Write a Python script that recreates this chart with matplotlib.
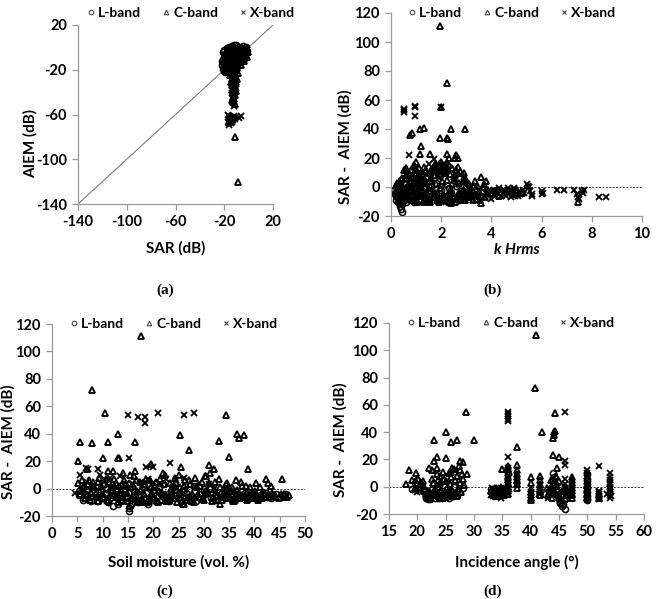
import matplotlib
matplotlib.use("Agg")
import matplotlib.pyplot as plt
from matplotlib.lines import Line2D

plt.rcParams['font.family'] = ['Lato', 'DejaVu Sans']
plt.rcParams['font.weight'] = 'bold'
plt.rcParams['axes.unicode_minus'] = False

# ---------------- data ----------------
band_names = ["L-band", "C-band", "X-band"]

# (a) SAR vs AIEM (dB)
a_L = [(-22,-12),(-21.5,-16),(-21,-19),(-20.5,-21),(-20,-9),(-19.5,-14),(-19,-6),(-18.5,-18),(-18,-11),(-17,-4),
       (-16,-8),(-15,-13),(-14,-2),(-13,-6),(-12,-10),(-11,-1),(-10,-5),(-9,-9),(-8,0),(-7,-3),
       (-6,-7),(-5,1),(-4,-2),(-3,-5),(-2,0),(-1,-3),(-17.5,-16),(-16.5,-20),(-15.5,-17),(-14.5,-22),
       (-13.5,-15),(-12.5,-19),(-11.5,-14),(-10.5,-12),(-9.5,-16),(-8.5,-11),(-7.5,-9),(-6.5,-12),(-5.5,-8),(-4.5,-10),
       (-3.5,-6),(-2.5,-4),(-21,-4),(-20,-2),(-18,-1),(-16,0),(-14,1),(-12,2),(-10,2),(-13,-27),
       (-12,-24),(-11,-30),(-12.5,-34),(-11.5,-38),(-20.5,-17),(-19.5,-22)]
a_C = [(-21,-10),(-20,-15),(-19,-8),(-18,-13),(-17,-2),(-16,-11),(-15,-5),(-14,-16),(-13,-3),(-12,-12),
       (-11,-7),(-10,-15),(-9,-2),(-8,-8),(-7,-13),(-6,-4),(-5,-9),(-4,-12),(-3,-3),(-2,-7),
       (-1,-1),(-0.5,-4),(-19.5,-19),(-18.5,-5),(-17.5,-21),(-16.5,-7),(-15.5,-19),(-14.5,-9),(-13.5,-23),(-12.5,-6),
       (-11.5,-20),(-10.5,-4),(-9.5,-18),(-8.5,-14),(-7.5,-2),(-6.5,-16),(-5.5,-1),(-4.5,-6),(-3.5,-10),(-2.5,-2),
       (-1.5,-9),(-15,-25),(-14,-28),(-13,-26),(-12,-29),(-11,-25),(-10,-27),(-9,-23),(-14.5,-31),(-13.5,-34),
       (-12.5,-30),(-11.5,-33),(-10.5,-31),(-9.5,-28),(-13.5,-38),(-12.5,-41),(-11.5,-36),(-10.5,-39),(-13,-44),(-12,-46),
       (-11,-43),(-12.5,-49),(-11.5,-51),(-13.5,-47),(-11,-80),(-9,-120)]
a_X = [(-20,-7),(-19,-12),(-18,-3),(-17,-9),(-16,-15),(-15,-1),(-14,-7),(-13,-12),(-12,-4),(-11,-17),
       (-10,-9),(-9,-4),(-8,-12),(-7,-6),(-6,-2),(-5,-5),(-4,-8),(-3,-1),(-2,-4),(-1,-2),
       (-16.5,-18),(-15.5,-22),(-14.5,-14),(-13.5,-19),(-12.5,-24),(-11.5,-11),(-10.5,-21),(-9.5,-13),(-8.5,-17),(-7.5,-10),
       (-14,-30),(-13,-32),(-12,-27),(-11,-35),(-10,-33),(-13.5,-41),(-12,-39),(-13,-46),(-12,-52),(-17,-60),
       (-16.5,-63),(-16,-61),(-15.5,-64),(-15,-62),(-14,-65),(-13,-63),(-12,-61),(-11,-64),(-10,-62),(-8,-63),
       (-6,-61),(-16.8,-67),(-15.8,-68),(-14.8,-66),(-13.8,-67),(-12.8,-65),(-16.2,-69),(-15.2,-66),(-14.2,-68)]

# (b) k Hrms vs SAR - AIEM (dB)
b_L = [(0.1,-2),(0.15,-4),(0.2,-6),(0.25,-3),(0.3,-8),(0.35,-5),(0.4,-2),(0.45,-7),(0.5,-1),(0.55,-4),
       (0.6,2),(0.65,-6),(0.7,0),(0.75,-3),(0.8,4),(0.85,-5),(0.9,1),(0.95,-2),(1.0,-7),(1.1,-1),
       (1.2,-4),(1.3,0),(1.4,-6),(1.5,-3),(0.2,-9),(0.3,-11),(0.4,-5),(0.5,3),(0.6,-8),(0.7,5),
       (0.8,-2),(0.9,3),(1.0,-5),(1.1,2),(0.35,-13),(0.4,-15),(0.42,-17),(0.45,-12),(0.38,-10),(0.25,-7),
       (0.3,1),(0.5,-9),(0.6,-6),(1.2,-8),(1.6,-3),(1.8,-5),(2.0,-2),(2.2,-6),(0.15,-5),(0.28,-10),
       (0.55,6),(0.75,3),(1.3,4),(1.7,2),(2.4,-4),(2.8,-3),(3.1,-6),
       (0.2,0),(0.3,3),(0.4,5),(0.5,-6),(0.6,-10),(0.7,-8),(0.8,-7),(0.9,-10),(1.0,0),(1.1,-9),
       (1.2,4),(1.3,-6),(1.4,1),(1.5,-9),(1.6,0),(1.7,-7),(1.8,3),(1.9,-4),(2.1,-9),(2.3,-1),
       (2.5,-7),(2.6,1),(2.7,-9),(2.9,-5),(3.0,0),(3.2,-3),(3.4,-8)]
b_C = [(0.4,2),(0.5,-5),(0.6,8),(0.7,-7),(0.8,4),(0.9,-9),(1.0,10),(1.1,-6),(1.2,5),(1.3,-10),
       (1.4,3),(1.5,-8),(1.6,6),(1.7,-5),(1.8,12),(1.9,-9),(2.0,9),(2.1,-6),(2.2,13),(2.3,-10),
       (2.4,-4),(2.5,7),(2.6,-8),(2.7,3),(2.8,-6),(2.9,5),(3.0,-7),(3.1,2),(3.2,-5),(3.3,1),
       (3.4,-8),(3.5,-3),(3.6,-6),(3.7,2),(3.8,-4),(0.55,12),(0.75,-2),(0.95,14),(1.15,0),(1.35,11),
       (1.55,-3),(1.75,16),(1.95,-1),(2.15,10),(2.35,-2),(2.55,8),(2.75,-4),(2.95,6),(3.15,-6),(3.35,-5),
       (0.65,-3),(0.85,6),(1.05,-4),(1.25,9),(1.45,-6),(1.65,4),(1.85,14),(2.05,-7),(2.25,5),(2.45,-9),
       (2.65,-5),(2.85,-3),(3.05,-4),(0.9,15),(1.4,12),(1.9,-10),(1.95,16),(2.4,-11),(2.9,7),
       (1.95,111),(2.25,72),(2.0,55),(0.75,36),(0.85,37),(1.15,40),(1.3,41),(2.4,40),(2.95,40),(1.95,34),
       (2.25,34),(2.27,33),(1.2,28),(1.15,23),(1.55,23),(2.25,23),(2.6,22),(2.3,20),(2.65,20),(2.55,20),
       (1.0,17),(2.65,14),(3.6,7),(3.6,-11),(7.45,-10),(0.5,12),(1.8,15),(2.0,14),(1.9,13),(2.1,12),
       (2.2,11),(1.4,-9),(3.8,4),(4.2,-3),(4.0,-4),(4.3,-6),(4.6,-3),(4.9,-5),(5.0,-2),(5.2,-4),
       (1.7,8),(2.35,9),(1.05,7),(0.7,10),
       (0.25,3),(0.35,-6),(0.45,6),(0.55,-8),(0.65,9),(0.75,0),(0.85,-9),(0.95,4),(1.05,-10),(1.15,8),
       (1.25,-2),(1.35,-7),(1.45,7),(1.55,-10),(1.65,11),(1.75,-4),(1.85,-9),(1.95,8),(2.05,4),(2.15,-8),
       (2.25,13),(2.35,-6),(2.45,2),(2.55,-10),(2.65,10),(2.75,-8),(2.85,4),(2.95,-9),(3.05,3),(3.15,-1),
       (3.25,-9),(3.35,4),(3.45,-4),(3.55,-9),(3.65,0),(3.75,-7),(3.85,-2),(1.9,16),(2.0,17),(2.1,15),
       (2.2,16),(1.85,11),(1.7,13),(1.6,12),(1.3,14),(1.1,13),(0.8,12),(1.0,12),(0.6,13),(2.3,15),
       (2.45,13),(2.6,12),(2.75,11),(2.9,10)]
b_X = [(0.5,54),(0.5,52),(0.52,53),(0.95,55),(0.97,56),(0.95,49),(2.0,55),(0.7,22),(1.7,19),(1.5,16),
       (0.6,-3),(0.9,2),(1.2,-5),(1.5,-2),(1.8,-7),(2.1,1),(2.4,-4),(2.7,-8),(3.0,-2),(3.3,-6),
       (3.6,-1),(3.9,-5),(4.0,-8),(4.2,-3),(4.4,-6),(4.5,-2),(4.7,-4),(4.8,-7),(4.9,-1),(5.0,-5),
       (5.1,-3),(4.3,-1),(4.6,-6),(3.8,-4),(3.5,-7),(3.2,-3),(2.9,-9),(5.4,2),(5.45,1),(5.5,0),
       (5.6,-5),(5.55,-3),(5.6,-6),(6.0,-3),(6.0,-5),(6.05,-4),(6.6,-2),(6.9,-2),(7.3,-2),(7.4,-5),
       (7.45,-7),(7.5,-8),(7.6,-3),(7.65,-4),(7.7,-2),(8.3,-7),(8.55,-7),(0.4,-5),(1.0,-9),(1.4,-4),
       (2.2,-10),(1.75,10),(1.6,6),(2.5,5),(4.1,-2),(4.45,-4),(4.75,-2),(5.05,-6),
       (0.3,-1),(0.5,0),(0.8,-6),(1.1,5),(1.3,-8),(1.9,6),(2.3,-7),(2.6,3),(2.8,-5),(3.1,-8),
       (3.4,0),(3.7,-6),(4.05,-3),(4.15,-6),(4.35,-3),(4.55,-5),(4.65,-1),(4.85,-3),(4.95,-6),(5.15,-5),
       (5.25,-2),(5.3,-4)]

# (c) Soil moisture (vol. %) vs SAR - AIEM (dB)
c_L = [(5.5,-1),(6.5,-4),(7.5,-6),(8.5,-2),(9.5,-5),(10.5,-3),(11.5,-7),(12,-13),(12.5,-4),(13.5,-8),
       (14.5,-2),(15.3,-16),(15.4,-13),(15.6,-11),(15.2,-14),(16.5,-5),(17.5,-8),(18.5,-3),(19.5,-6),(20.5,-9),
       (21.5,-4),(22.5,-7),(23.5,-2),(24.5,-5),(25.5,-8),(26.5,-3),(27.5,-6),(28.5,-9),(29.5,-4),(30.5,-2),
       (31.5,-7),(32.5,-5),(33.5,-3),(34.5,-6),(35.5,-8),(36.5,-4),(37.5,-2),(38.5,-6),(39.5,-5),(40.5,-7),
       (41.5,-4),(42.5,-6),(43.5,-5),(45,-6),(46,-4),(8,2),(10,4),(12,1),(14,3),(16,0),
       (18,2),(20,-1),(22,3),(24,1),(26,-1),(28,2),(30,0),(6.2,-8),(9,-9),(11,-10),
       (13,-11),(17,-10),(19,-11),
       (5.3,-5),(6.8,-1),(7.8,-9),(8.8,1),(9.8,-7),(10.8,0),(11.8,-5),(12.8,-1),(13.8,-4),(14.8,-7),
       (16.2,-2),(17.2,-6),(18.2,1),(19.2,-8),(20.2,-3),(21.2,1),(22.2,-6),(23.2,-9),(24.2,-1),(25.2,-6),
       (26.2,2),(27.2,-9),(28.2,-2),(29.2,-7),(30.2,-4),(31.2,0),(32.2,-8),(33.2,-6),(34.2,0),(35.2,-4),
       (36.2,-7),(37.2,-5),(38.2,-3),(39.2,-7),(40.2,-5),(41.2,-6),(42.2,-3),(43.2,-7),(44.2,-4),(45.6,-5)]
c_C = [(5.2,4),(5.8,-2),(6.3,2),(6.8,-5),(7.3,6),(7.8,-3),(8.3,1),(8.8,-6),(9.3,8),(9.8,-4),
       (10.3,3),(10.8,-8),(11.3,5),(11.8,-2),(12.3,7),(12.8,-6),(13.3,2),(13.8,-9),(14.3,6),(14.8,-3),
       (15.3,4),(15.8,-7),(16.3,9),(16.8,-2),(17.3,5),(17.8,-8),(18.3,3),(18.8,-10),(19.3,6),(19.8,-4),
       (20.3,2),(20.8,-9),(21.3,7),(21.8,-3),(22.3,10),(22.8,-8),(23.3,4),(23.8,-5),(24.3,8),(24.8,-10),
       (25.3,1),(25.8,-11),(26.3,6),(26.8,-6),(27.3,3),(27.8,-9),(28.3,8),(28.8,-4),(29.3,2),(29.8,-7),
       (30.3,9),(30.8,-3),(31.3,11),(31.8,-6),(32.3,5),(32.8,-8),(33.3,1),(33.8,-5),(34.3,3),(34.8,-7),
       (35.3,-2),(35.8,-9),(36.3,6),(36.8,-4),(37.3,5),(37.8,-6),(38.3,2),(38.8,-7),(39.3,-3),(39.8,-6),
       (40.3,4),(40.8,-8),(41.3,-5),(41.8,-3),(42.3,7),(42.6,4),(43.2,2),(43.8,-5),(44.3,-6),(45.2,-4),
       (45.5,7),(46,-5),(46.5,-6),(46.8,-5),
       (17.5,111),(8,72),(10.5,55),(34.3,54),(5.5,34),(8,33),(11,34),(16.5,34),(13,40),(25.3,39),
       (33,35),(36.5,40),(37,37),(38,39),(27,28),(35,23),(5.2,20),(10,22),(13,22),(13.3,22),
       (19.5,18),(31,17),(38.7,14),(25.5,16),(11,13),(16.5,13),(7,14),(12,13),(14,11),(15.5,10),
       (21,-10),(22.5,-9),(26,-11),(33.3,-11),(36,-9),(17,-10),(18,-10),(32,14),(30.5,9),(25,10),
       (22,11),(9,5),(6,6),
       (5.5,-4),(6.1,1),(6.6,-7),(7.1,3),(7.6,-8),(8.1,5),(8.6,-3),(9.1,-9),(9.6,2),(10.1,-6),
       (10.6,7),(11.1,-9),(11.6,1),(12.1,-5),(12.6,4),(13.1,-10),(13.6,0),(14.1,-6),(14.6,3),(15.1,-9),
       (15.6,1),(16.1,-5),(16.6,6),(17.1,-8),(17.6,0),(18.1,-4),(18.6,7),(19.1,-9),(19.6,1),(20.1,-6),
       (20.6,5),(21.1,-2),(21.6,-8),(22.1,3),(22.6,-5),(23.1,-9),(23.6,0),(24.1,-7),(24.6,4),(25.1,-3),
       (25.6,-9),(26.1,2),(26.6,-8),(27.1,6),(27.6,-4),(28.1,-10),(28.6,1),(29.1,-6),(29.6,5),(30.1,-8),
       (30.6,-1),(31.1,4),(31.6,-9),(32.1,0),(32.6,-5),(33.1,7),(33.6,-8),(34.1,-2),(34.6,4),(35.1,-6),
       (35.6,1),(36.1,-8),(36.6,-1),(37.1,-7),(37.6,2),(38.1,-5),(38.6,-8),(39.1,1),(39.6,-7),(40.1,-2),
       (40.6,-6),(41.1,1),(41.6,-7),(42.1,-4),(42.9,-6),(43.5,-3),(44.1,-5),(44.8,-7),(45.8,-4),(46.3,-6)]
c_X = [(4.5,-3),(5.5,10),(6.8,15),(7.2,14),(9,14),(9.5,10),(15,54),(17,52),(18.3,52),(18.3,48),
       (21,55),(26,54),(28,55),(15.2,22),(18.5,16),(20,16),(23.3,19),(6,-1),(8,1),(10,-3),
       (12,2),(14,-5),(16,3),(18,-2),(20,4),(22,-4),(24,1),(26,-3),(26,8),(28,2),
       (30,-5),(32,0),(34,-4),(36,-2),(38,-6),(40,-3),(11.5,8),(13,-7),(19,7),(24.5,6),
       (31,3),(16.5,-8),
       (7,5),(8.5,-6),(10.5,6),(11,-7),(13.5,9),(14.5,1),(15.5,-6),(17.5,5),(19.5,-7),(21.5,3),
       (22.5,7),(23.5,-6),(25,-2),(27,-7),(29,4),(33,-6),(35,-1),(37,-5),(39,-4),(41,-6),
       (43,-5)]

# (d) Incidence angle (deg) vs SAR - AIEM (dB)
d_L = [(19,-2),(19.5,3),(20,5),(20.5,0),(21,-3),(21.5,-8),(22,-6),(22.5,-2),(23,2),(23.5,-7),
       (24,-4),(24.5,1),(25,-5),(25.5,-8),(26,-3),(26.5,0),(27,-6),(21.7,-5),(22.2,-9),(23.2,-8),
       (44,10),(44,5),(44.3,2),(44.5,-2),(44.8,-6),(45,-9),(45.2,-11),(45.5,-14),(46,-16),(45.7,-13),
       (45.4,0),(46.1,-4),(50,-1),(50,2),(50,-4),(50,-7),(50,-9),(50,6),(50,9),(43.2,-3),
       (42.5,-5),
       (21.5,-6),(21.6,-3),(21.8,-9),(22.3,-7),(22.8,-5),(23.3,-1),(23.8,-8),(24.3,-6),(25.3,-2),(26.3,-7),
       (27.3,-4),(28,-1),(33,-2),(33.5,-7),(34,-4),(34.5,-6),(35,-2),(44.2,7),(44.6,-4),(45.1,-12),
       (45.3,-6),(45.8,-10),(43.7,-1),(46.2,-8),(50,4),(50,-10),(50,0)]
d_C = [(18,2),(18.5,12),(19,5),(19.7,10),(20,3),(20.5,-1),(21,4),(21.5,-5),(22,-7),(22.5,12),
       (22.5,6),(23,34),(23,19),(23,-3),(23.5,14),(23.5,22),(24,8),(24,-6),(24.5,11),(25,40),
       (25,21),(25,4),(25.5,-2),(26,33),(26,7),(26.5,13),(26.5,-5),(27,34),(27,8),(27.5,19),
       (27.5,3),(27.7,-4),(28,18),(28,6),(28.5,55),(28.8,9),(30,34),(22,14),(24,3),(25.5,10),
       (26.2,14),(27.3,15),(27.6,12),(21,1),(23.8,0),
       (33,-3),(33.5,-6),(34,-2),(34.5,-5),(35,13),(35,-4),(36,13),(36,10),(36,5),(36,0),
       (36,-3),(37.5,29),(37.5,16),(37.5,9),(37.5,5),(37.5,2),(37.5,-1),(40,7),(40,-2),(40,-6),
       (40,-10),(41,111),(40.7,72),(42,40),(41.7,8),(41.7,2),(41.7,-3),(41.7,-6),(44.3,54),(44,36),
       (44.2,40),(44.3,41),(44.2,38),(43.9,23),(45,22),(44.7,14),(44.5,8),(44,3),(43.5,-2),(44.5,-5),
       (45.5,-3),(46.2,-6),(47.3,7),(47.3,3),(47.3,-1),(47.3,-5),(47.3,-8),(43,-6),(42.8,-1),
       (19.5,-1),(20.2,6),(20.8,2),(21.3,-2),(21.8,-7),(22.3,-4),(22.8,3),(23.3,-6),(23.7,5),(24.2,-3),
       (24.7,6),(25.2,-6),(25.7,2),(26.2,-7),(26.7,5),(27.2,-2),(27.8,9),(28.2,1),(23.5,9),(24.5,-8),
       (25.5,-4),(26,11),(27,-7),(36,15),(36,7),(36,2),(36,-5),(36.2,11),(37.5,12),(37.5,7),
       (37.5,4),(40,3),(40,-4),(40,-8),(41.7,5),(41.7,0),(41.7,-4),(43.5,5),(44,-3),(44.5,1),
       (45,-7),(45,4),(45.5,-10),(46,-1),(43.8,-8),(33.2,-5),(33.8,-1),(34.2,-7),(34.8,0),(35.3,-6),
       (47.3,5),(47.3,1),(47.3,-3),(47.3,-6),(50,-2),(50,-5),(50,-8),(50,1),(52,-6),(52,-8)]
d_X = [(36,55),(36,53),(36,52),(36,50),(36,48),(36,22),(36,-5),(36,8),(36,3),(36.1,-2),
       (46,55),(46,19),(46,16),(46,2),(46,-3),(46,-7),(50,12),(50,10),(50,4),(50,-3),
       (50,-6),(52,15),(52,-5),(52,-7),(52,-9),(52,-3),(54,10),(54,5),(54,3),(54,-2),
       (54,-4),(54,-6),(54,-8),(53.5,-5),(54.2,-7),(33,-6),(33.5,-4),(34,-7),(34.5,-3),(35,-6),
       (35.5,-2),(33.2,-1),(34.8,-1),(20,-4),(20.5,-3),(22,-8),(23,-6),(24,-9),(25,-8),(26,-7),
       (40,-4),(40,-8),(41.5,-5),(43,-8),(47,-3),
       (33.3,-7),(33.8,-3),(34.3,-5),(34.7,-8),(35.2,-4),(36,12),(36,14),(36,5),(36,0),(54,0),
       (54,-3),(54,2),(54,7),(52,-4),(52,-8),(50,8),(50,-8),(46,-1),(46,6),(21.5,-7),
       (22.5,-5),(24.5,-4),(27,-5)]

# ticks
a_ticks = [-140, -100, -60, -20, 20]
b_xticks = [0, 2, 4, 6, 8, 10]
c_xticks = [0, 5, 10, 15, 20, 25, 30, 35, 40, 45, 50]
d_xticks = [15, 20, 25, 30, 35, 40, 45, 50, 55, 60]
diff_yticks = [-20, 0, 20, 40, 60, 80, 100, 120]

# ---------------- figure ----------------
W, H = 658, 599
fig = plt.figure(figsize=(W / 100, H / 100), dpi=100)


def px_axes(l, t, r, b):
    return fig.add_axes([l / W, 1 - b / H, (r - l) / W, (b - t) / H])


styles = [dict(marker='o', ms=4.4, mfc='none', mec='black', mew=1.15),
          dict(marker='^', ms=4.8, mfc='none', mec='black', mew=1.35),
          dict(marker='x', ms=4.0, mec='black', mew=1.3)]

GRAY = '#9a9a9a'
TICKFS = 10.5
LABFS = 11


def style_axes(ax):
    for s in ['top', 'right']:
        ax.spines[s].set_visible(False)
    for s in ['left', 'bottom']:
        ax.spines[s].set_color(GRAY)
        ax.spines[s].set_linewidth(0.9)
    ax.tick_params(direction='out', length=4, width=0.9, color=GRAY,
                   labelsize=TICKFS, pad=4)
    for lab in ax.get_xticklabels() + ax.get_yticklabels():
        lab.set_fontweight('bold')


def scatter_bands(ax, data):
    for pts, st, name in zip(data, styles, band_names):
        xs = [p[0] for p in pts]
        ys = [p[1] for p in pts]
        ax.plot(xs, ys, linestyle='none', label=name, **st)


def add_legend(ax, x_axfrac, y_axfrac):
    hs = [Line2D([], [], linestyle='none', marker=st['marker'], ms=3.3,
                 mfc='none', mec='#444444', mew=0.8) for st in styles]
    ax.legend(hs, band_names, ncol=3, loc='center left', frameon=False,
              bbox_to_anchor=(x_axfrac, y_axfrac), handletextpad=0.1,
              columnspacing=1.4, handlelength=0.8, borderaxespad=0,
              prop=dict(size=10, weight='bold'))


# (a)
axa = px_axes(78, 25, 273, 204)
axa.plot([a_ticks[0], a_ticks[-1]], [a_ticks[0], a_ticks[-1]], color='#808080', lw=0.8)
scatter_bands(axa, [a_L, a_C, a_X])
axa.set_xlim(-140, 20)
axa.set_ylim(-140, 20)
axa.set_xticks(a_ticks)
axa.set_yticks(a_ticks)
style_axes(axa)
axa.set_xlabel('SAR (dB)', fontsize=LABFS, fontweight='bold')
axa.xaxis.set_label_coords(0.5, -(248 - 204) / 179)
axa.xaxis.label.set_va('center')
axa.set_ylabel('AIEM (dB)', fontsize=LABFS, fontweight='bold')
axa.yaxis.set_label_coords((30 - 78) / 195, 1 - (143 - 25) / 179)
axa.yaxis.label.set_va('center')
add_legend(axa, (80 - 78) / 195, 1 + (25 - 13) / 179)


def diff_axes(ax, xticks, xlabel, x_italic, t, b, l, r, ylab_x, ylab_y, xlab_y, leg_x):
    ax.axhline(0, color='#333333', lw=0.7, ls=(0, (2, 1.5)), zorder=0)
    ax.set_xlim(xticks[0], xticks[-1])
    ax.set_ylim(-20, 120)
    ax.set_xticks(xticks)
    ax.set_yticks(diff_yticks)
    style_axes(ax)
    ax.set_xlabel(xlabel, fontsize=LABFS, fontweight='bold',
                  fontstyle='italic' if x_italic else 'normal')
    ax.xaxis.set_label_coords(0.5, -(xlab_y - b) / (b - t))
    ax.xaxis.label.set_va('center')
    ax.set_ylabel('SAR -  AIEM (dB)', fontsize=LABFS, fontweight='bold')
    ax.yaxis.set_label_coords((ylab_x - l) / (r - l), 1 - (ylab_y - t) / (b - t))
    ax.yaxis.label.set_va('center')
    add_legend(ax, (leg_x - l) / (r - l), 1.0)


# (b)
axb = px_axes(391, 13, 642, 216)
scatter_bands(axb, [b_L, b_C, b_X])
diff_axes(axb, b_xticks, 'k Hrms', True, 13, 216, 391, 642, 345, 147, 250, 401)

# (c)
axc = px_axes(52, 324, 305, 516)
scatter_bands(axc, [c_L, c_C, c_X])
diff_axes(axc, c_xticks, 'Soil moisture (vol. %)', False, 324, 516, 52, 305, 8, 442, 562, 63)

# (d)
axd = px_axes(389, 323, 644, 514)
scatter_bands(axd, [d_L, d_C, d_X])
diff_axes(axd, d_xticks, 'Incidence angle (°)', False, 323, 514, 389, 644, 340, 440, 562, 400)

# panel letters
for lab, x, y in [('(a)', 165, 290), ('(b)', 493, 290), ('(c)', 165, 591), ('(d)', 493, 591)]:
    fig.text(x / W, 1 - y / H, lab, ha='center', va='center', fontsize=11,
             fontweight='bold', family=['Liberation Serif', 'DejaVu Serif'])

fig.savefig('out.png', dpi=100)
